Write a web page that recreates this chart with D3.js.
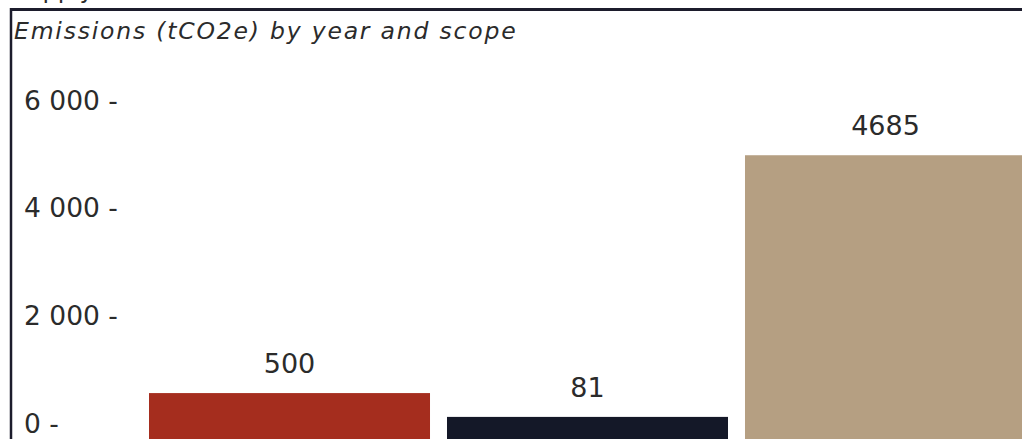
<!DOCTYPE html>
<html>
<head>
<meta charset="utf-8">
<script src="https://cdn.jsdelivr.net/npm/d3@7"></script>
<style>
  html, body { margin: 0; padding: 0; background: #fff; overflow: hidden; }
  text { font-family: "DejaVu Sans", sans-serif; fill: #2b2b2b; }
</style>
</head>
<body>
<svg id="chart" width="1022" height="439"></svg>
<script>
const categories = ["Scope 1", "Scope 2", "Scope 3"];
const values = [500, 81, 4685];
const colors = ["#a52d1e", "#141828", "#b59f82"];
const tickValues = [0, 2000, 4000, 6000];
const titleText = "Emissions (tCO2e) by year and scope";
const overTitle = "Supply";

const W = 1022, H = 439;
const svg = d3.select("#chart");

const locale = d3.formatLocale({decimal: ".", thousands: " ", grouping: [3], currency: ["", ""]});
const fmt = locale.format(",");

// Scales
const x = d3.scaleBand().domain(categories).range([149, 1026]).paddingInner(0.057).paddingOuter(0);
const yBar = d3.scaleLinear().domain([0, 6000]).range([421.5, 80.5]);
const yAxisScale = d3.scaleLinear().domain([0, 6000]).range([423, 100]);

// Partially visible text above frame
svg.append("text").attr("x", 12).attr("y", -2)
  .style("font-size", "24px").text(overTitle);

// Frame lines
svg.append("line").attr("x1", 11).attr("x2", W).attr("y1", 9.5).attr("y2", 9.5)
  .attr("stroke", "#1c1c2c").attr("stroke-width", 3);
svg.append("line").attr("x1", 11).attr("x2", 11).attr("y1", 8).attr("y2", H)
  .attr("stroke", "#1c1c2c").attr("stroke-width", 2.5);

// Title
svg.append("text").attr("x", 14).attr("y", 38.5)
  .style("font-size", "23.5px").style("font-style", "italic")
  .style("letter-spacing", "1.8px")
  .text(titleText);

// Axis (tick labels with dash)
const axis = d3.axisLeft(yAxisScale).tickValues(tickValues).tickSize(0)
  .tickFormat(d => fmt(d) + " -");
const gAxis = svg.append("g").call(axis);
gAxis.select(".domain").remove();
gAxis.selectAll("text")
  .attr("x", 24).attr("dy", "0.35em")
  .attr("text-anchor", "start")
  .style("font-size", "26.5px")
  .style("font-family", "\"DejaVu Sans\", sans-serif")
  .attr("fill", "#2b2b2b");

// Bars
svg.append("g").selectAll("rect").data(values).join("rect")
  .attr("x", (d, i) => x(categories[i]))
  .attr("width", x.bandwidth())
  .attr("y", d => yBar(d))
  .attr("height", d => H + 10 - yBar(d))
  .attr("fill", (d, i) => colors[i]);

// Value labels
svg.append("g").selectAll("text").data(values).join("text")
  .attr("x", (d, i) => x(categories[i]) + x.bandwidth() / 2)
  .attr("y", d => yBar(d) - 20)
  .attr("text-anchor", "middle")
  .style("font-size", "27px")
  .text(d => d);
</script>
</body>
</html>
